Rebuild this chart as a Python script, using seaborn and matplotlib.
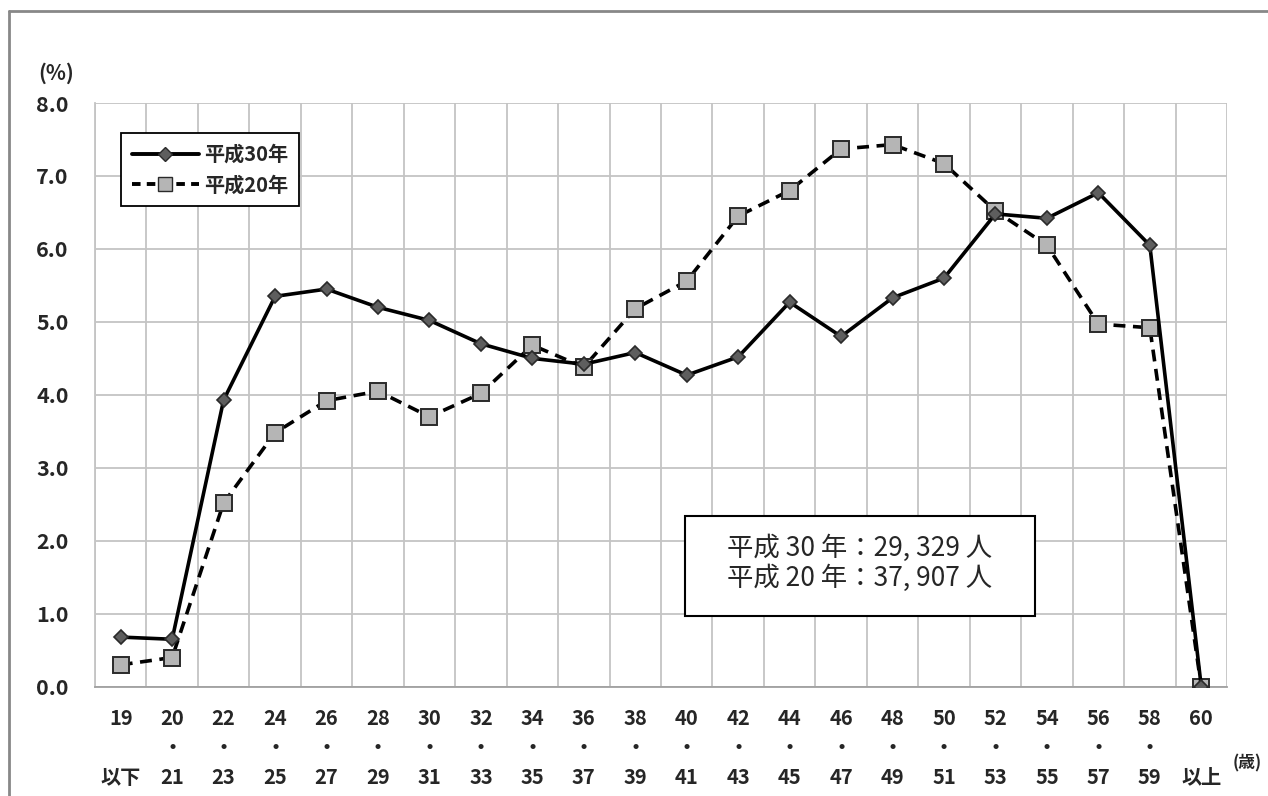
"""Age distribution line chart: Heisei 30 vs Heisei 20."""

import matplotlib
matplotlib.use("Agg")
import matplotlib.pyplot as plt
from matplotlib.lines import Line2D
from matplotlib.patches import Rectangle
import pandas as pd
import seaborn as sns

# age bands (x categories)
age_top = ["19", "20", "22", "24", "26", "28", "30", "32", "34", "36", "38",
           "40", "42", "44", "46", "48", "50", "52", "54", "56", "58", "60"]
age_bottom = ["以下", "21", "23", "25", "27", "29", "31", "33", "35", "37", "39",
              "41", "43", "45", "47", "49", "51", "53", "55", "57", "59", "以上"]
categories = [f"{a}-{b}" for a, b in zip(age_top, age_bottom)]

# share of each age band (%)
h30_values = [0.68, 0.65, 3.93, 5.35, 5.45, 5.20, 5.02, 4.70, 4.50, 4.42, 4.58,
              4.27, 4.52, 5.27, 4.80, 5.33, 5.60, 6.48, 6.42, 6.77, 6.05, 0.0]
h20_values = [0.30, 0.40, 2.52, 3.48, 3.92, 4.05, 3.70, 4.02, 4.68, 4.38, 5.18,
              5.56, 6.45, 6.80, 7.37, 7.43, 7.17, 6.52, 6.05, 4.97, 4.92, 0.0]

series_labels = ["平成30年", "平成20年"]
y_ticks = [0, 1, 2, 3, 4, 5, 6, 7, 8]
note_lines = ["平成 30 年：29, 329 人", "平成 20 年：37, 907 人"]

sns.set_style("white")
plt.rcParams["font.family"] = ["Noto Sans CJK JP", "DejaVu Sans"]

W, H = 1268, 796
fig = plt.figure(figsize=(W / 100, H / 100), dpi=100)
ax = fig.add_axes([95 / W, 1 - 686.7 / H, 1132 / W, 583.7 / H])

df = pd.DataFrame({"age": categories, "h30": h30_values, "h20": h20_values})

sns.lineplot(data=df, x="age", y="h20", ax=ax, color="black", lw=2.6,
             linestyle=(0, (3.3, 2.1)), marker="s", markersize=12,
             markerfacecolor="#b5b5b5", markeredgecolor="#2a2a2a",
             markeredgewidth=1.4, label=series_labels[1], zorder=3)
sns.lineplot(data=df, x="age", y="h30", ax=ax, color="black", lw=2.6,
             marker="D", markersize=7.5, markerfacecolor="#5e5e5e",
             markeredgecolor="#2a2a2a", markeredgewidth=1.2,
             label=series_labels[0], zorder=4)

n = len(categories)
ax.set_xlim(-0.5, n - 0.5)
ax.set_ylim(0, 8)
ax.set_xlabel("")
ax.set_ylabel("")

grid_c = "#c4c4c4"
# x: labels at centers, grid at every boundary, tick marks every second boundary
ax.set_xticks(range(n))
ax.set_xticklabels([f"{a}\n・\n{b}" if a not in ("19", "60") else f"{a}\n\n{b}"
                    for a, b in zip(age_top, age_bottom)],
                   fontsize=14.5, fontweight="bold", linespacing=1.5)
ax.tick_params(axis="x", which="major", length=0, pad=15)
ax.set_xticks([i - 0.5 for i in range(n + 1)], minor=True)
ax.tick_params(axis="x", which="minor", length=7, width=1.3, color="#a0a0a0",
               direction="out")
for i, t in enumerate(ax.xaxis.get_minor_ticks()):
    if i % 2:
        t.tick1line.set_visible(False)
ax.grid(True, which="minor", axis="x", color=grid_c, lw=1.3)

ax.set_yticks(y_ticks)
ax.set_yticklabels([f"{v:.1f}" for v in y_ticks], fontsize=15.5, fontweight="bold")
ax.tick_params(axis="y", length=7, width=1.3, color="#a0a0a0", pad=12)
ax.grid(True, which="major", axis="y", color=grid_c, lw=1.3)

for side in ("top", "right"):
    ax.spines[side].set_visible(False)
ax.spines["left"].set_color(grid_c)
ax.spines["left"].set_linewidth(1.3)
ax.spines["bottom"].set_color("#a0a0a0")
ax.spines["bottom"].set_linewidth(1.3)

# legend, Excel style: one marker in the middle of the line
h30_h = Line2D([], [], color="black", lw=2.8, marker="D", markersize=7,
               markerfacecolor="#5e5e5e", markeredgecolor="#2a2a2a")
h20_h = Line2D([], [], color="black", lw=2.8, linestyle=(0, (2.2, 1.6)),
               marker="s", markersize=10.5, markerfacecolor="#b5b5b5",
               markeredgecolor="#2a2a2a")
leg = ax.legend([h30_h, h20_h], series_labels, loc="upper left",
                bbox_to_anchor=(0.023, 0.9486), borderaxespad=0,
                numpoints=1, handlelength=3.3, handletextpad=0.25,
                fancybox=False, edgecolor="black", framealpha=1,
                prop={"size": 14.5, "weight": "bold"}, borderpad=0.55,
                labelspacing=0.45)
leg.get_frame().set_linewidth(1.3)

# unit labels
fig.text(38 / W, 1 - 73 / H, "(%)", fontsize=15, fontweight="bold",
         ha="left", va="center")
fig.text(1233 / W, 1 - 763 / H, "(歳)", fontsize=12, fontweight="bold",
         ha="left", va="center")

# totals box
fig.patches.append(Rectangle((685 / W, 1 - 616 / H), 350 / W, 100 / H,
                             transform=fig.transFigure, facecolor="white",
                             edgecolor="black", lw=1.5, zorder=5))
fig.text(860 / W, 1 - 563 / H, "\n".join(note_lines), fontsize=19,
         ha="center", va="center", linespacing=1.12, zorder=6)

# outer frame (left and top edges visible)
fig.add_artist(Line2D([9 / W, 9 / W], [0, 1 - 11 / H], color="#888888",
                      lw=2, transform=fig.transFigure))
fig.add_artist(Line2D([9 / W, 1], [1 - 11 / H, 1 - 11 / H], color="#888888",
                      lw=2, transform=fig.transFigure))

fig.savefig("out.png", dpi=100)
